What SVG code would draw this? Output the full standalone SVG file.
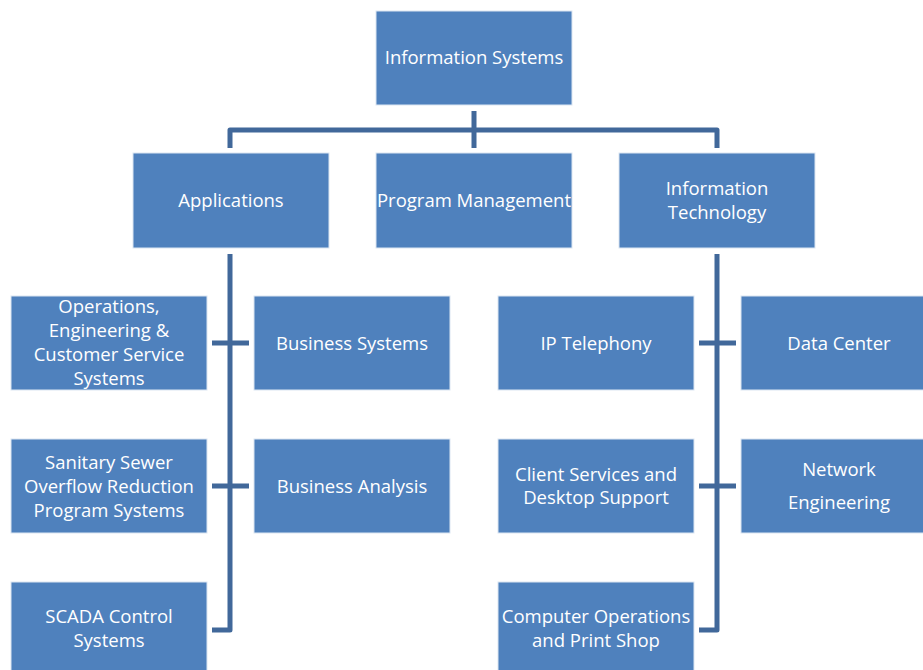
<svg xmlns="http://www.w3.org/2000/svg" width="923" height="670" viewBox="0 0 923 670">
<style>
.b{fill:#4F81BD;stroke:#DCE6F2;stroke-width:1}
.t{fill:#FFFFFF;font-family:"Open Sans","Liberation Sans",sans-serif;font-size:18.5px;text-anchor:middle}
.c{fill:none;stroke:#41689A;stroke-width:5;stroke-linejoin:round}
</style>
<rect width="923" height="670" fill="#FFFFFF"/>
<g id="connectors">
<path class="c" d="M474 111V148M230 148V130H717V148"/>
<path class="c" d="M230 254V630H212M212 343H249M212 486H249"/>
<path class="c" d="M717 254V630H699M699 343H736M699 486H736"/>
</g>
<g id="n-is"><rect class="b" x="376" y="11" width="196" height="94"/><text class="t" x="474" y="64">Information Systems</text></g>
<g id="n-app"><rect class="b" x="133" y="153" width="196" height="95"/><text class="t" x="231" y="207">Applications</text></g>
<g id="n-pm"><rect class="b" x="376" y="153" width="196" height="95"/><text class="t" x="474" y="207">Program Management</text></g>
<g id="n-it"><rect class="b" x="619" y="153" width="196" height="95"/><text class="t" x="717" y="195">Information</text><text class="t" x="717" y="219">Technology</text></g>
<g id="n-oecs"><rect class="b" x="11" y="296" width="196" height="94"/><text class="t" x="109" y="313">Operations,</text><text class="t" x="109" y="337">Engineering &amp;</text><text class="t" x="109" y="361">Customer Service</text><text class="t" x="109" y="385">Systems</text></g>
<g id="n-bs"><rect class="b" x="254" y="296" width="196" height="94"/><text class="t" x="352" y="350">Business Systems</text></g>
<g id="n-ipt"><rect class="b" x="498" y="296" width="196" height="94"/><text class="t" x="596" y="350">IP Telephony</text></g>
<g id="n-dc"><rect class="b" x="741" y="296" width="196" height="94"/><text class="t" x="839" y="350">Data Center</text></g>
<g id="n-sso"><rect class="b" x="11" y="439" width="196" height="94"/><text class="t" x="109" y="469">Sanitary Sewer</text><text class="t" x="109" y="493">Overflow Reduction</text><text class="t" x="109" y="517">Program Systems</text></g>
<g id="n-ba"><rect class="b" x="254" y="439" width="196" height="94"/><text class="t" x="352" y="493">Business Analysis</text></g>
<g id="n-cs"><rect class="b" x="498" y="439" width="196" height="94"/><text class="t" x="596" y="481">Client Services and</text><text class="t" x="596" y="504">Desktop Support</text></g>
<g id="n-ne"><rect class="b" x="741" y="439" width="196" height="94"/><text class="t" x="839" y="476">Network</text><text class="t" x="839" y="509">Engineering</text></g>
<g id="n-scada"><rect class="b" x="11" y="582" width="196" height="95"/><text class="t" x="109" y="623">SCADA Control</text><text class="t" x="109" y="647">Systems</text></g>
<g id="n-co"><rect class="b" x="498" y="582" width="196" height="95"/><text class="t" x="596" y="623">Computer Operations</text><text class="t" x="596" y="647">and Print Shop</text></g>
</svg>
